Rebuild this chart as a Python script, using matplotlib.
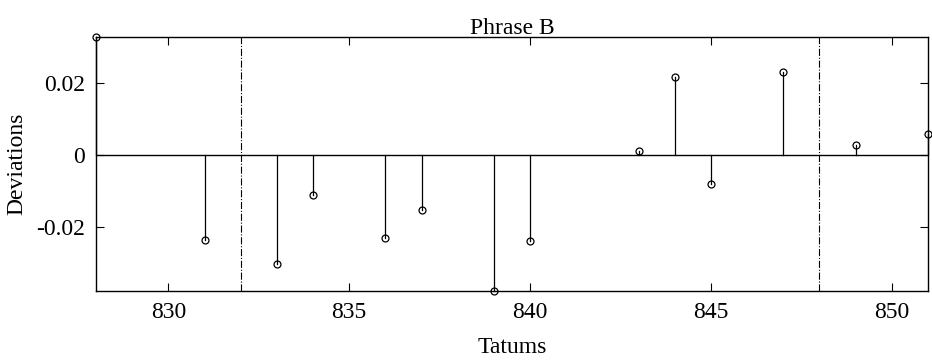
import matplotlib
matplotlib.use("Agg")
import matplotlib.pyplot as plt

plt.rcParams['font.family'] = ['Liberation Serif', 'DejaVu Serif']
plt.rcParams['axes.unicode_minus'] = False

tatums = [828, 831, 833, 834, 836, 837, 839, 840, 843, 844, 845, 847, 849, 851]
deviations = [0.0328, -0.0236, -0.0303, -0.0111, -0.0231, -0.0153, -0.0378,
              -0.0239, 0.0011, 0.0217, -0.0081, 0.0231, 0.0028, 0.0058]
phrase_bounds = [832, 848]
x_ticks = [830, 835, 840, 845, 850]
y_ticks = [-0.02, 0, 0.02]
y_labels = ['-0.02', '0', '0.02']

fig = plt.figure(figsize=(9.32, 3.6), dpi=100)
ax = fig.add_axes([0.103, 0.192, 0.8927, 0.7055])

ax.axhline(0, color='black', lw=1.0, zorder=1)
for t, d in zip(tatums, deviations):
    ax.plot([t, t], [0, d], color='black', lw=0.9, zorder=2, clip_on=False)
ax.plot(tatums, deviations, 'o', mfc='none', mec='black', ms=5, mew=0.9,
        zorder=3, clip_on=False)

for b in phrase_bounds:
    ax.axvline(b, color='black', lw=0.8, ls='-.', zorder=1)

ax.set_xlim(828, 851)
ax.set_ylim(min(deviations), max(deviations))
ax.set_xticks(x_ticks)
ax.set_yticks(y_ticks)
ax.set_yticklabels(y_labels)
ax.tick_params(direction='in', top=True, right=True, length=6, width=0.8,
               labelsize=17, pad=8)
for s in ax.spines.values():
    s.set_linewidth(1.0)

ax.set_title('Phrase B', fontsize=17, pad=2)
ax.set_xlabel('Tatums', fontsize=17, labelpad=10)
ax.set_ylabel('Deviations', fontsize=17, labelpad=6)

fig.savefig('out.png', dpi=100)
